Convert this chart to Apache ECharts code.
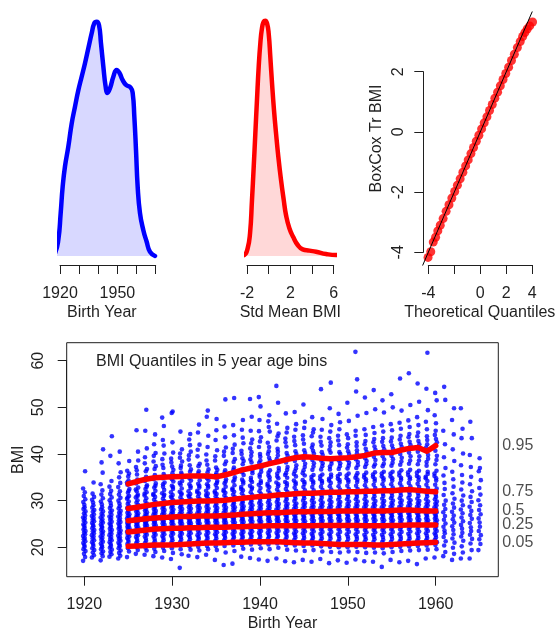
<!DOCTYPE html>
<html>
<head>
<meta charset="utf-8">
<script src="https://cdn.jsdelivr.net/npm/echarts@6/dist/echarts.min.js"></script>
<style>
html, body { margin: 0; padding: 0; background: #fff; }
#chart { width: 558px; height: 630px; }
</style>
</head>
<body>
<div id="chart"></div>
<script>
// ---------- density of birth year: [year, density] ----------
const birthYearDensity = [
  [1915.65, 0], [1917.39, 0.0004], [1919.13, 0.0024], [1920.35, 0.0063], [1921.39, 0.0102],
  [1922.61, 0.0132], [1924.35, 0.0161], [1926.10, 0.0195], [1927.84, 0.0220], [1929.58, 0.0244],
  [1931.32, 0.0264], [1933.06, 0.0284], [1934.80, 0.0306], [1936.55, 0.0328], [1937.94, 0.0343],
  [1939.16, 0.0345], [1940.38, 0.0340], [1941.42, 0.0313], [1942.64, 0.0279], [1943.86, 0.0249],
  [1944.73, 0.0240], [1946.13, 0.0247], [1947.87, 0.0264], [1949.61, 0.0274], [1951.00, 0.0270],
  [1952.74, 0.0259], [1954.49, 0.0252], [1956.92, 0.0248], [1957.97, 0.0240], [1958.84, 0.0205],
  [1959.71, 0.0156], [1960.58, 0.0102], [1961.80, 0.0063], [1963.54, 0.0038], [1965.28, 0.0021],
  [1967.03, 0.0006], [1969.64, 0]
];
const birthYearTicks = [1920, 1950];

// ---------- density of standardised mean BMI: [value, density] ----------
const stdBmiDensity = [
  [-2.71, 0], [-2.25, 0.0023], [-1.94, 0.0179], [-1.72, 0.0530], [-1.54, 0.1309], [-1.38, 0.2088],
  [-1.23, 0.2867], [-1.08, 0.3646], [-0.92, 0.4426], [-0.77, 0.4971], [-0.62, 0.5322], [-0.46, 0.5477],
  [-0.31, 0.5501], [-0.15, 0.5439], [0.00, 0.5205], [0.15, 0.4659], [0.31, 0.4036], [0.49, 0.3413],
  [0.68, 0.2867], [0.89, 0.2322], [1.14, 0.1776], [1.39, 0.1309], [1.60, 0.0958], [1.91, 0.0647],
  [2.28, 0.0436], [2.68, 0.0257], [3.14, 0.0156], [3.76, 0.0125], [4.37, 0.0101], [5.29, 0.0047],
  [6.22, 0.0023], [6.99, 0.0023]
];
const stdBmiTicks = [-2, 2, 6];

// ---------- normal QQ plot of Box-Cox transformed BMI ----------
const qqTheoretical = [-4.02, -3.81, -3.62, -3.44, -3.27, -3.08, -2.86, -2.63, -2.41, -2.19, -1.97, -1.76,
  -1.55, -1.34, -1.13, -0.93, -0.72, -0.52, -0.31, -0.11, 0.10, 0.30, 0.51, 0.71, 0.92, 1.12, 1.33, 1.54,
  1.75, 1.96, 2.18, 2.40, 2.62, 2.85, 3.07, 3.26, 3.43, 3.61, 3.80, 4.02];
const qqSample = [-4.17, -3.98, -3.66, -3.50, -3.29, -3.10, -2.88, -2.64, -2.42, -2.20, -1.98, -1.77,
  -1.56, -1.34, -1.13, -0.93, -0.72, -0.52, -0.31, -0.11, 0.10, 0.30, 0.50, 0.71, 0.91, 1.12, 1.32, 1.53,
  1.74, 1.94, 2.15, 2.37, 2.58, 2.80, 3.00, 3.17, 3.30, 3.42, 3.52, 3.65];
const qqLineEnds = [[-4.6, -4.6], [4.4, 4.4]];
const qqXTicks = [-4, 0, 2, 4];

// ---------- BMI by birth year ----------
const scatterYears = [1920, 1921, 1922, 1923, 1924, 1925, 1926, 1927, 1928, 1929,
  1930, 1931, 1932, 1933, 1934, 1935, 1936, 1937, 1938, 1939,
  1940, 1941, 1942, 1943, 1944, 1945, 1946, 1947, 1948, 1949,
  1950, 1951, 1952, 1953, 1954, 1955, 1956, 1957, 1958, 1959,
  1960, 1961, 1962, 1963, 1964, 1965];

const bmi1920s = [
  [17.1,17.9,18.6,19.2,19.6,20.1,20.5,20.9,21.3,21.7,22.0,22.4,22.8,23.1,23.5,23.8,24.2,24.6,24.9,25.3,25.7,26.1,26.4,26.8,27.3,27.7,28.2,28.6,29.1,29.7,30.3,31.0,31.8,32.6,36.3],
  [17.8,18.3,18.9,19.4,19.8,20.3,20.7,21.1,21.5,21.9,22.3,22.6,23.0,23.4,23.7,24.1,24.5,24.8,25.2,25.6,25.9,26.3,26.7,27.1,27.6,28.0,28.5,29.0,29.6,30.2,30.8,31.5,33.9],
  [17.2,18.1,18.7,19.1,19.6,20.0,20.4,20.8,21.2,21.6,22.0,22.3,22.7,23.1,23.4,23.8,24.2,24.5,24.9,25.3,25.6,26.0,26.4,26.8,27.2,27.7,28.1,28.6,29.2,29.8,30.5,31.3,32.2,33.5,36.0,38.2,41.0],
  [18.0,18.5,19.0,19.5,19.9,20.3,20.7,21.1,21.5,21.8,22.2,22.6,22.9,23.3,23.7,24.0,24.4,24.8,25.1,25.5,25.9,26.3,26.6,27.0,27.5,27.9,28.4,28.9,29.5,30.1,30.7,31.4,32.1,33.0,34.2,39.6,43.8],
  [17.6,18.2,18.8,19.3,19.8,20.2,20.6,21.0,21.4,21.8,22.1,22.5,22.9,23.2,23.6,24.0,24.3,24.7,25.1,25.4,25.8,26.2,26.6,27.0,27.4,27.8,28.3,28.8,29.4,30.0,30.6,31.3,32.0,32.9,33.8,35.0,36.1,38.0,40.5],
  [17.9,19.1,19.8,20.3,20.7,21.2,21.6,22.0,22.3,22.7,23.0,23.3,23.6,23.9,24.1,24.4,24.7,24.9,25.2,25.4,25.7,25.9,26.2,26.5,26.8,27.1,27.4,27.8,28.1,28.4,28.8,29.3,29.8,30.4,31.0,31.7,32.5,33.4,34.3,35.2,36.4,38.5,30.7,32.1,33.9,35.8],
  [18.6,19.4,20.0,20.4,20.9,21.3,21.8,22.2,22.6,22.9,23.2,23.5,23.8,24.0,24.3,24.6,24.9,25.1,25.4,25.6,25.9,26.2,26.4,26.7,27.0,27.3,27.7,28.0,28.3,28.7,29.1,29.6,30.1,30.7,31.3,32.0,32.8,33.7,34.5,35.6,37.2,40.5,45.1,31.0,32.4,34.1,36.5,38.6],
  [18.4,19.3,19.9,20.5,20.9,21.4,21.9,22.3,22.7,23.1,23.4,23.7,24.0,24.3,24.6,24.8,25.1,25.3,25.6,25.8,26.1,26.4,26.6,26.9,27.2,27.5,27.9,28.2,28.6,28.9,29.4,29.9,30.5,31.1,31.8,32.5,33.3,34.2,35.1,36.3,38.0,41.2,45.0,49.5,31.5,33.0,34.6,36.8,39.3],
  [18.1,19.0,19.7,20.4,20.8,21.3,21.8,22.3,22.7,23.1,23.5,23.9,24.1,24.4,24.7,25.0,25.3,25.5,25.8,26.0,26.3,26.6,26.9,27.2,27.5,27.8,28.2,28.5,28.9,29.2,29.7,30.2,30.8,31.4,32.1,32.8,33.7,34.6,35.5,36.8,38.4,40.2,42.1,44.2,31.2,33.2,35.0,37.4,39.6],
  [17.8,19.2,19.9,20.5,21.0,21.5,22.0,22.4,22.8,23.2,23.6,24.0,24.2,24.5,24.8,25.1,25.4,25.6,25.9,26.2,26.4,26.7,27.0,27.3,27.6,28.0,28.3,28.7,29.0,29.4,29.9,30.4,31.0,31.6,32.3,33.0,33.9,34.8,35.7,37.0,38.9,40.1,43.0,46.0,47.8,31.3,33.5,35.3,37.7,41.8]
];
const bmi1930s = [
  [17.5,18.8,19.8,20.5,21.0,21.5,22.0,22.5,22.9,23.3,23.7,24.1,24.3,24.6,24.9,25.2,25.5,25.7,26.0,26.3,26.5,26.8,27.1,27.4,27.7,28.1,28.5,28.8,29.2,29.6,30.1,30.6,31.2,31.8,32.5,33.2,34.1,35.0,35.9,37.3,39.0,40.3,48.8,49.1,30.9,32.9,34.6,36.6,38.2,42.5],
  [15.6,18.5,19.6,20.6,21.1,21.6,22.1,22.5,22.9,23.3,23.7,24.1,24.4,24.7,25.0,25.3,25.6,25.8,26.1,26.4,26.6,26.9,27.2,27.5,27.9,28.2,28.6,28.9,29.3,29.7,30.2,30.7,31.3,31.9,32.6,33.4,34.2,35.1,36.0,37.5,39.2,41.0,44.8,31.6,33.8,35.6,37.0,38.4,40.1],
  [18.2,19.5,20.2,20.7,21.2,21.7,22.2,22.6,23.0,23.4,23.8,24.2,24.5,24.8,25.1,25.3,25.6,25.9,26.1,26.4,26.6,26.9,27.2,27.5,27.9,28.3,28.6,29.0,29.4,29.8,30.3,30.8,31.4,32.0,32.7,33.5,34.3,35.2,36.2,37.6,38.8,40.5,43.1,44.3,31.1,33.1,34.8,36.7,39.7,41.9],
  [17.9,19.3,20.1,20.8,21.3,21.8,22.2,22.6,23.0,23.5,23.9,24.2,24.5,24.8,25.1,25.4,25.7,26.0,26.2,26.5,26.7,27.0,27.3,27.6,28.0,28.4,28.7,29.1,29.5,29.9,30.4,30.9,31.5,32.1,32.8,33.6,34.4,35.3,36.3,37.4,39.5,42.0,44.6,46.3,31.8,33.2,35.8,37.9,40.9],
  [18.4,19.6,20.3,20.9,21.4,21.9,22.3,22.7,23.1,23.5,23.9,24.3,24.6,24.9,25.2,25.5,25.7,26.0,26.2,26.5,26.7,27.0,27.3,27.6,28.0,28.3,28.7,29.1,29.5,29.9,30.4,30.9,31.5,32.1,32.8,33.5,34.3,35.2,36.1,37.7,39.9,43.9,48.0,49.3,31.2,33.2,34.8,36.7,38.6,41.5],
  [17.3,19.4,20.2,20.9,21.4,21.9,22.4,22.8,23.2,23.6,24.0,24.3,24.6,24.9,25.2,25.5,25.8,26.0,26.3,26.5,26.7,27.0,27.3,27.7,28.0,28.4,28.8,29.2,29.6,30.0,30.4,30.9,31.4,32.0,32.7,33.4,34.2,35.0,35.9,37.1,38.6,40.8,43.0,47.5,31.7,33.8,35.5,36.6,39.5,45.1],
  [16.2,18.9,20.3,21.0,21.5,22.0,22.4,22.8,23.2,23.6,24.0,24.3,24.6,24.9,25.2,25.5,25.8,26.1,26.3,26.6,26.8,27.1,27.4,27.8,28.1,28.5,28.9,29.3,29.7,30.1,30.6,31.1,31.7,32.3,33.0,33.7,34.6,35.5,36.5,37.8,39.6,41.4,45.9,51.7,32.0,34.1,36.0,38.4,40.5,43.6],
  [16.5,19.2,20.4,21.1,21.6,22.1,22.5,22.9,23.3,23.7,24.1,24.4,24.7,25.0,25.3,25.6,25.9,26.2,26.4,26.7,26.9,27.2,27.5,27.9,28.3,28.6,29.0,29.4,29.8,30.3,30.8,31.3,31.9,32.6,33.3,34.1,35.0,36.0,37.1,38.3,40.2,42.0,46.2,52.0,32.3,34.5,36.6,38.9,41.1,44.0],
  [18.0,19.7,20.5,21.1,21.6,22.1,22.5,22.9,23.3,23.7,24.1,24.4,24.7,25.0,25.4,25.7,26.0,26.3,26.6,26.9,27.1,27.4,27.7,28.1,28.4,28.8,29.2,29.6,30.0,30.5,31.0,31.6,32.2,32.9,33.7,34.5,35.5,36.6,37.8,39.1,40.7,42.3,45.2,47.3,32.5,34.1,36.1,38.5,40.0,43.5],
  [17.7,19.5,20.6,21.2,21.7,22.2,22.6,23.0,23.4,23.8,24.2,24.5,24.8,25.1,25.5,25.8,26.1,26.4,26.7,27.0,27.2,27.5,27.9,28.2,28.6,29.0,29.4,29.8,30.2,30.7,31.2,31.8,32.5,33.2,34.0,34.9,35.9,37.0,38.2,39.6,41.2,43.1,45.0,48.0,51.8,32.8,34.4,36.4,38.8,40.4,42.3]
];
const bmi1940s = [
  [17.4,19.8,20.7,21.2,21.7,22.2,22.7,23.1,23.5,23.9,24.2,24.5,24.8,25.2,25.5,25.8,26.1,26.5,26.8,27.0,27.3,27.6,27.9,28.3,28.7,29.1,29.5,29.9,30.4,30.9,31.4,32.0,32.7,33.4,34.2,35.1,36.2,37.4,38.6,40.0,41.5,43.6,47.3,50.2,52.2,33.8,35.6,36.9,38.1,39.4,42.7,44.9],
  [17.1,19.6,20.6,21.2,21.8,22.3,22.7,23.1,23.5,23.9,24.3,24.6,24.9,25.2,25.6,25.9,26.2,26.5,26.8,27.1,27.4,27.7,28.0,28.4,28.8,29.2,29.6,30.1,30.5,31.0,31.6,32.2,32.9,33.6,34.4,35.4,36.5,37.9,39.2,40.6,42.4,44.8,47.0,48.3,33.2,35.0,36.0,38.6,40.0,41.5,45.8],
  [17.6,19.9,20.8,21.2,21.8,22.3,22.7,23.1,23.5,23.9,24.3,24.6,24.9,25.3,25.6,25.9,26.2,26.5,26.8,27.1,27.4,27.7,28.1,28.5,28.9,29.3,29.7,30.2,30.7,31.2,31.8,32.4,33.1,33.9,34.8,35.8,37.0,38.3,39.7,41.1,42.9,44.4,46.5,51.0,54.6,33.5,35.2,36.4,38.9,40.5,43.8],
  [17.0,19.5,20.5,21.1,21.7,22.2,22.7,23.1,23.5,23.9,24.3,24.6,25.0,25.3,25.6,25.9,26.3,26.6,26.9,27.2,27.5,27.8,28.1,28.5,28.9,29.3,29.8,30.3,30.8,31.3,31.9,32.5,33.2,34.0,34.9,35.9,37.2,38.8,40.2,41.6,43.3,45.6,48.7,33.7,35.5,36.6,38.2,39.6,42.5,44.6],
  [16.8,19.3,20.4,21.0,21.6,22.1,22.6,23.0,23.4,23.9,24.3,24.6,25.0,25.3,25.7,26.0,26.3,26.7,27.0,27.3,27.6,27.9,28.2,28.6,29.0,29.4,29.9,30.4,30.9,31.5,32.1,32.8,33.5,34.3,35.2,36.3,37.6,39.2,40.6,41.9,43.7,46.4,49.0,33.9,35.7,36.9,38.5,40.0,42.8,45.2],
  [17.3,19.2,20.3,20.9,21.5,22.0,22.5,23.0,23.4,23.8,24.2,24.6,24.9,25.3,25.6,26.0,26.3,26.6,27.0,27.3,27.6,27.9,28.3,28.7,29.1,29.5,30.0,30.5,31.0,31.6,32.2,32.9,33.6,34.4,35.4,36.5,37.9,39.4,40.8,42.2,44.0,46.9,50.6,34.0,35.9,37.2,38.7,40.2,43.1,45.6],
  [16.9,19.4,20.4,20.9,21.5,22.0,22.5,22.9,23.4,23.8,24.2,24.6,25.0,25.3,25.7,26.0,26.4,26.7,27.0,27.4,27.7,28.0,28.4,28.7,29.1,29.6,30.0,30.5,31.1,31.6,32.2,32.9,33.7,34.5,35.5,36.6,38.0,39.3,40.7,42.0,43.8,45.3,47.9,34.1,35.1,37.3,38.7,40.1,41.4,44.6],
  [17.5,19.1,20.2,20.8,21.4,21.9,22.4,22.9,23.3,23.8,24.2,24.7,25.0,25.4,25.7,26.1,26.4,26.7,27.1,27.4,27.7,28.0,28.4,28.8,29.2,29.6,30.1,30.6,31.1,31.7,32.3,33.0,33.8,34.6,35.6,36.7,38.0,39.1,40.4,41.8,43.7,47.5,53.9,34.2,35.2,37.4,38.6,39.8,42.6,45.2],
  [16.6,19.0,20.1,20.7,21.3,21.9,22.4,22.8,23.3,23.8,24.2,24.7,25.0,25.4,25.7,26.1,26.4,26.8,27.1,27.4,27.7,28.1,28.4,28.8,29.2,29.7,30.1,30.6,31.2,31.8,32.4,33.1,33.8,34.7,35.6,36.7,37.9,39.0,40.3,41.7,43.4,46.2,49.8,55.3,34.3,35.1,37.3,38.5,40.9,42.5,44.8],
  [17.2,18.9,20.0,20.6,21.3,21.8,22.3,22.8,23.3,23.8,24.2,24.7,25.0,25.4,25.8,26.1,26.5,26.8,27.1,27.5,27.8,28.1,28.5,28.9,29.3,29.7,30.2,30.7,31.2,31.8,32.4,33.1,33.9,34.7,35.7,36.8,38.0,39.1,40.4,41.9,43.9,46.8,48.6,34.4,35.3,37.4,38.6,40.0,42.9,45.3]
];
const bmi1950s = [
  [16.7,19.1,20.0,20.6,21.2,21.8,22.3,22.8,23.3,23.8,24.3,24.7,25.1,25.4,25.8,26.1,26.5,26.8,27.2,27.5,27.8,28.2,28.5,28.9,29.3,29.8,30.3,30.8,31.3,31.9,32.5,33.2,34.0,34.8,35.8,36.9,38.1,39.2,40.6,42.1,44.2,47.1,51.0,34.4,35.4,37.5,38.7,40.0,41.4,43.4],
  [17.4,19.0,20.1,20.6,21.2,21.8,22.3,22.8,23.3,23.8,24.3,24.7,25.1,25.4,25.8,26.1,26.5,26.8,27.2,27.5,27.8,28.2,28.5,28.9,29.3,29.8,30.3,30.8,31.3,31.9,32.5,33.2,34.0,34.9,35.9,37.0,38.3,39.4,40.8,42.5,45.0,48.2,53.4,56.0,61.9,34.5,35.4,37.6,38.9,40.1,41.7,43.9],
  [17.0,18.8,20.0,20.6,21.2,21.7,22.2,22.7,23.2,23.7,24.2,24.6,25.0,25.4,25.8,26.1,26.5,26.8,27.2,27.5,27.8,28.2,28.6,29.0,29.4,29.8,30.3,30.9,31.4,32.0,32.6,33.3,34.1,35.0,36.0,37.2,38.5,39.7,41.1,42.8,45.3,48.8,52.1,34.6,35.5,37.8,39.1,40.4,42.1,44.1],
  [16.9,18.9,19.9,20.5,21.1,21.7,22.2,22.7,23.2,23.7,24.1,24.6,25.0,25.4,25.8,26.1,26.5,26.8,27.2,27.5,27.8,28.2,28.6,29.0,29.4,29.9,30.4,30.9,31.5,32.0,32.7,33.4,34.2,35.1,36.1,37.3,38.7,40.2,41.6,43.2,45.8,49.6,53.7,34.7,35.6,37.8,39.4,40.9,42.5,44.5],
  [15.8,18.7,19.8,20.5,21.1,21.6,22.2,22.7,23.2,23.7,24.1,24.6,25.0,25.4,25.8,26.1,26.5,26.9,27.2,27.5,27.8,28.2,28.6,29.0,29.5,29.9,30.4,31.0,31.5,32.1,32.8,33.5,34.3,35.2,36.2,37.4,38.8,40.3,41.7,43.4,46.1,48.9,51.5,34.8,35.8,37.9,39.5,41.0,42.6,44.8],
  [17.3,19.0,20.0,20.6,21.2,21.8,22.3,22.8,23.3,23.8,24.2,24.7,25.1,25.5,25.8,26.2,26.6,26.9,27.3,27.6,27.9,28.3,28.7,29.1,29.5,30.0,30.5,31.0,31.6,32.1,32.8,33.5,34.3,35.2,36.2,37.5,38.9,40.3,41.8,43.5,46.4,50.0,52.8,34.8,35.8,38.1,39.6,41.1,42.7,45.1],
  [16.8,19.2,20.1,20.7,21.3,21.8,22.3,22.8,23.3,23.8,24.3,24.7,25.1,25.5,25.9,26.3,26.6,27.0,27.3,27.7,28.0,28.3,28.7,29.1,29.6,30.0,30.5,31.1,31.7,32.3,33.0,33.7,34.5,35.4,36.5,37.7,39.2,40.8,42.2,43.9,46.7,49.3,56.2,34.9,36.0,38.4,40.0,41.5,43.1,45.4],
  [17.1,19.3,20.2,20.8,21.4,21.9,22.4,22.9,23.4,23.9,24.3,24.8,25.2,25.5,25.9,26.3,26.6,27.0,27.3,27.7,28.0,28.4,28.8,29.2,29.6,30.1,30.6,31.2,31.8,32.4,33.1,33.8,34.6,35.5,36.6,37.9,39.5,41.2,42.6,44.3,47.2,50.5,57.3,35.0,36.1,38.6,40.3,41.9,43.6,45.8],
  [16.4,19.4,20.3,20.9,21.5,22.0,22.5,23.0,23.4,23.9,24.4,24.8,25.2,25.5,25.9,26.2,26.6,26.9,27.3,27.6,27.9,28.3,28.7,29.1,29.5,29.9,30.4,31.0,31.6,32.2,32.9,33.6,34.4,35.3,36.4,37.8,39.5,41.4,42.8,44.6,47.9,51.2,55.1,35.0,36.0,38.6,40.5,42.1,43.8,46.2],
  [17.6,19.5,20.4,21.0,21.5,22.0,22.5,23.0,23.5,23.9,24.4,24.8,25.1,25.5,25.8,26.2,26.5,26.9,27.2,27.5,27.8,28.2,28.6,29.0,29.4,29.8,30.3,30.9,31.4,32.0,32.7,33.4,34.2,35.1,36.2,37.5,39.0,40.6,42.1,43.8,46.9,49.4,54.0,61.7,34.8,35.7,38.3,39.8,41.4,43.0,45.3]
];
const bmi1960s = [
  [17.8,19.6,20.5,21.1,21.6,22.1,22.6,23.0,23.5,23.9,24.4,24.8,25.1,25.5,25.8,26.2,26.5,26.9,27.2,27.5,27.8,28.2,28.6,29.0,29.4,29.8,30.3,30.8,31.3,31.9,32.6,33.4,34.3,35.3,36.4,37.8,39.6,41.8,43.2,45.0,48.3,51.5,53.1,34.8,35.8,38.7,40.7,42.5,44.1,46.6],
  [18.1,19.0,20.4,21.3,22.2,23.0,23.6,24.4,25.1,25.9,26.7,27.5,28.2,29.1,30.0,31.2,32.5,33.8,35.4,37.0,39.3,42.1,45.0,51.6,54.4],
  [17.3,18.6,19.9,21.0,21.9,22.8,23.7,24.5,25.3,26.0,26.8,27.6,28.5,29.4,30.4,31.6,33.0,34.6,36.2,38.5,41.0,44.2,47.3,49.8],
  [17.6,18.9,20.2,21.4,22.3,23.1,24.0,24.8,25.6,26.4,27.3,28.1,29.0,30.0,31.1,32.4,33.9,35.5,37.6,40.1,43.4,45.4,49.8],
  [17.6,19.4,20.8,21.8,22.7,23.5,24.3,25.2,26.1,26.9,27.8,28.7,29.7,30.8,32.0,33.5,35.1,37.2,39.8,43.4,46.9],
  [19.4,20.7,21.7,22.6,23.5,24.4,25.3,26.2,27.1,28.0,29.0,30.1,31.3,32.7,34.4,36.3,37.0,39.1]
];

// ---------- BMI quantiles in 5-year age bins ----------
const quantileYears = [1925, 1926, 1927, 1928, 1929, 1930, 1931, 1932, 1933, 1934, 1935, 1936,
  1937, 1938, 1939, 1940, 1941, 1942, 1943, 1944, 1945, 1946, 1947, 1948,
  1949, 1950, 1951, 1952, 1953, 1954, 1955, 1956, 1957, 1958, 1959, 1960];
const q95 = [33.6, 34.1, 34.6, 34.9, 35.0, 35.1, 35.2, 35.3, 35.3, 35.3, 35.1, 35.5,
  36.0, 36.6, 37.0, 37.4, 37.9, 38.3, 38.8, 39.2, 39.4, 39.3, 39.1, 39.0,
  39.1, 39.2, 39.4, 39.7, 40.2, 40.3, 40.3, 40.8, 41.2, 41.4, 40.6, 41.8];
const q75 = [28.3, 28.6, 28.9, 29.2, 29.4, 29.6, 29.7, 29.8, 29.9, 29.9, 30.0, 30.1,
  30.3, 30.5, 30.7, 30.9, 31.0, 31.2, 31.3, 31.5, 31.6, 31.6, 31.7, 31.8,
  31.8, 31.9, 31.9, 32.0, 32.0, 32.1, 32.1, 32.3, 32.4, 32.2, 32.0, 31.9];
const q50 = [25.7, 25.9, 26.1, 26.3, 26.4, 26.5, 26.6, 26.6, 26.7, 26.7, 26.7, 26.8,
  26.9, 27.1, 27.2, 27.3, 27.4, 27.4, 27.5, 27.6, 27.6, 27.7, 27.7, 27.7,
  27.8, 27.8, 27.8, 27.8, 27.8, 27.8, 27.9, 28.0, 28.0, 27.9, 27.8, 27.8];
const q25 = [23.3, 23.5, 23.7, 23.9, 24.0, 24.1, 24.1, 24.2, 24.2, 24.3, 24.3, 24.3,
  24.4, 24.4, 24.5, 24.5, 24.6, 24.6, 24.6, 24.6, 24.6, 24.6, 24.7, 24.7,
  24.7, 24.7, 24.7, 24.6, 24.6, 24.6, 24.7, 24.7, 24.8, 24.8, 24.8, 24.8];
const q05 = [20.2, 20.3, 20.4, 20.5, 20.5, 20.5, 20.6, 20.7, 20.8, 20.9, 20.9, 21.0,
  21.1, 21.1, 21.2, 21.2, 21.2, 21.2, 21.1, 21.0, 20.9, 20.9, 20.8, 20.7,
  20.6, 20.6, 20.6, 20.6, 20.5, 20.5, 20.6, 20.7, 20.8, 20.9, 21.0, 21.1];
const quantileNames = ['0.95', '0.75', '0.5', '0.25', '0.05'];

// ---------- presentation ----------
const FONT = '"Liberation Sans", Arial, Helvetica, sans-serif';
const INK = '#1f1f1f';
const TEXT = { color: INK, fontSize: 16, fontFamily: FONT };
// small horizontal spread of dots inside each year column, in pixels
const jitterPx = [-1.2, 0.8, -0.3, 1.2, -0.8, 0.3, 0, -1, 1, -0.5, 0.5];

const bmiByYear = [].concat(bmi1920s, bmi1930s, bmi1940s, bmi1950s, bmi1960s);
const bmiPoints = [];
bmiByYear.forEach((vals, k) => {
  vals.forEach((v, i) => {
    bmiPoints.push({ value: [scatterYears[k], v], symbolOffset: [jitterPx[i % jitterPx.length], 0] });
  });
});

const quantileSets = [q95, q75, q50, q25, q05];
const zip = (xs, ys) => xs.map((x, i) => [x, ys[i]]);

const visibleAxis = (extra) => Object.assign({
  type: 'value',
  axisLine: { show: true, onZero: false, lineStyle: { color: INK, width: 1 } },
  axisTick: { show: true, length: 9, lineStyle: { color: INK, width: 1 } },
  axisLabel: Object.assign({ show: true, interval: 0 }, TEXT),
  splitLine: { show: false }
}, extra);

const hiddenAxis = (extra) => Object.assign({
  type: 'value',
  axisLine: { show: false, onZero: false },
  axisTick: { show: false },
  axisLabel: { show: false },
  splitLine: { show: false },
  nameLocation: 'middle',
  nameTextStyle: Object.assign({}, TEXT)
}, extra);

const onlyTicks = (list) => (v) => (list.indexOf(v) >= 0 ? String(v) : '');
const plain = (v) => String(v);

const option = {
  animation: false,
  backgroundColor: '#ffffff',
  title: {
    text: 'BMI Quantiles in 5 year age bins',
    left: 96, top: 354, padding: 0,
    textStyle: Object.assign({ fontWeight: 'normal' }, TEXT)
  },
  grid: [
    { left: 60, top: 12.3, width: 95.7, height: 252.7, outerBoundsMode: 'none' },
    { left: 247, top: 12.3, width: 86.7, height: 252.7, outerBoundsMode: 'none' },
    { left: 428.3, top: 71.7, width: 104, height: 180.6, outerBoundsMode: 'none' },
    { left: 423.3, top: 12, width: 112.9, height: 253, outerBoundsMode: 'none' },
    { left: 84.3, top: 360.7, width: 351.4, height: 186.6, outerBoundsMode: 'none' },
    { left: 66.7, top: 342.7, width: 431.6, height: 234, outerBoundsMode: 'none',
      show: true, borderColor: INK, borderWidth: 1, backgroundColor: 'transparent' }
  ],
  xAxis: [
    visibleAxis({ gridIndex: 0, min: 1920, max: 1970, interval: 10,
      axisLabel: Object.assign({ interval: 0, margin: 21, formatter: onlyTicks(birthYearTicks) }, TEXT),
      name: 'Birth Year', nameLocation: 'middle', nameGap: 40,
      nameTextStyle: Object.assign({ padding: [0, 12, 0, 0] }, TEXT) }),
    visibleAxis({ gridIndex: 1, min: -2, max: 6, interval: 2,
      axisLabel: Object.assign({ interval: 0, margin: 21, formatter: onlyTicks(stdBmiTicks) }, TEXT),
      name: 'Std Mean BMI', nameLocation: 'middle', nameGap: 40,
      nameTextStyle: Object.assign({}, TEXT) }),
    visibleAxis({ gridIndex: 2, min: -4, max: 4, interval: 2, offset: 12.7,
      axisLabel: Object.assign({ interval: 0, margin: 21, formatter: onlyTicks(qqXTicks) }, TEXT) }),
    hiddenAxis({ gridIndex: 3, min: -4.385, max: 4.3, name: 'Theoretical Quantiles', nameGap: 40 }),
    visibleAxis({ gridIndex: 4, min: 1920, max: 1960, interval: 10, offset: 29.4,
      axisLabel: Object.assign({ interval: 0, margin: 20, formatter: plain }, TEXT) }),
    hiddenAxis({ gridIndex: 5, min: 1917.996, max: 1967.127, name: 'Birth Year', nameGap: 38.5 })
  ],
  yAxis: [
    { type: 'value', gridIndex: 0, min: -0.001325, max: 0.03589, show: false },
    { type: 'value', gridIndex: 1, min: -0.02104, max: 0.5697, show: false },
    visibleAxis({ gridIndex: 2, min: -4, max: 2, interval: 2, offset: 5,
      axisLabel: Object.assign({ interval: 0, margin: 17, rotate: 90, formatter: plain }, TEXT) }),
    hiddenAxis({ gridIndex: 3, min: -4.422, max: 3.983, name: 'BoxCox Tr BMI', nameGap: 38.6 }),
    visibleAxis({ gridIndex: 4, min: 20, max: 60, interval: 10, offset: 17.6,
      axisLabel: Object.assign({ interval: 0, margin: 20, rotate: 90, formatter: plain }, TEXT) }),
    hiddenAxis({ gridIndex: 5, min: 13.698, max: 63.859, name: 'BMI', nameGap: 40 })
  ],
  series: [
    {
      type: 'line', xAxisIndex: 0, yAxisIndex: 0, data: birthYearDensity,
      smooth: true, symbol: 'none', clip: false, silent: true,
      lineStyle: { color: '#0000ff', width: 4.5, cap: 'round', join: 'round' },
      areaStyle: { color: 'rgba(0,0,255,0.22)' }
    },
    {
      type: 'line', xAxisIndex: 1, yAxisIndex: 1, data: stdBmiDensity,
      smooth: true, symbol: 'none', clip: false, silent: true,
      lineStyle: { color: '#ff0000', width: 4.5, cap: 'round', join: 'round' },
      areaStyle: { color: 'rgba(255,0,0,0.22)' }
    },
    {
      type: 'scatter', xAxisIndex: 3, yAxisIndex: 3, data: zip(qqTheoretical, qqSample),
      symbolSize: 9, itemStyle: { color: '#ff0000' }, silent: true
    },
    {
      type: 'line', xAxisIndex: 3, yAxisIndex: 3, data: qqLineEnds,
      symbol: 'none', silent: true, lineStyle: { color: '#000000', width: 1 }
    },
    {
      type: 'scatter', xAxisIndex: 5, yAxisIndex: 5, data: bmiPoints,
      symbolSize: 4.6, itemStyle: { color: '#0000ff' }, silent: true
    }
  ].concat(quantileSets.map((vals, k) => ({
    type: 'line', name: quantileNames[k], xAxisIndex: 5, yAxisIndex: 5,
    data: zip(quantileYears, vals), symbol: 'none', silent: true,
    lineStyle: { color: '#ff0000', width: 5.5, cap: 'round', join: 'round' }
  }))).concat([{
    type: 'scatter', xAxisIndex: 5, yAxisIndex: 5, silent: true,
    data: quantileSets.map((vals, k) => ({
      value: [quantileYears[quantileYears.length - 1], vals[vals.length - 1]],
      name: quantileNames[k]
    })),
    symbolSize: 1, itemStyle: { color: 'rgba(0,0,0,0)' },
    label: Object.assign({ show: true, position: 'right', distance: 66, formatter: '{b}' }, TEXT)
  }])
};

const chart = echarts.init(document.getElementById('chart'), null, { renderer: 'canvas' });
chart.setOption(option);
</script>
</body>
</html>
